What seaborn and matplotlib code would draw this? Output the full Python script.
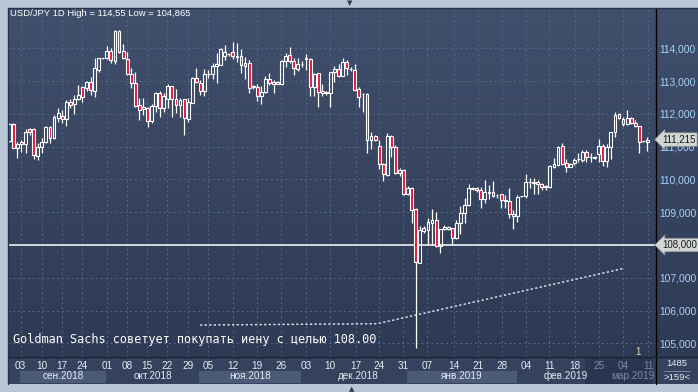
import numpy as np
import matplotlib
matplotlib.use("Agg")
import matplotlib.pyplot as plt
import matplotlib.transforms as mtransforms
from matplotlib.colors import LinearSegmentedColormap
from matplotlib.lines import Line2D
import seaborn as sns

# USD/JPY daily candles (oldest first)
opens = [111.18, 111.69, 110.97, 111.15, 111.07, 111.53, 111.53, 110.72, 110.99, 111.14,
         111.61, 111.25, 111.88, 111.94, 111.85, 112.37, 112.29, 112.46, 112.83, 112.80,
         112.96, 112.71, 113.34, 113.69, 113.71, 113.91, 113.62, 114.52, 113.91, 113.67,
         113.20, 112.93, 112.27, 112.14, 112.17, 111.78, 112.24, 112.62, 112.19, 112.44,
         112.85, 112.44, 112.27, 112.44, 111.84, 112.34, 113.10, 112.93, 112.71, 113.20,
         113.21, 113.46, 113.49, 113.77, 113.81, 113.87, 113.74, 113.76, 113.54, 113.54,
         112.83, 112.83, 112.54, 112.68, 113.05, 112.98, 112.91, 112.90, 113.62, 113.79,
         113.62, 113.37, 113.52, 113.66, 113.67, 112.83, 113.23, 112.70, 112.63, 112.62,
         113.26, 113.36, 113.16, 113.57, 113.37, 113.34, 112.75, 112.59, 112.59, 111.20,
         111.32, 111.02, 110.46, 110.13, 111.32, 110.98, 110.18, 110.29, 109.57, 109.73,
         109.09, 107.46, 108.43, 108.46, 108.68, 108.76, 107.98, 108.48, 108.48, 108.51,
         108.20, 108.66, 108.99, 109.22, 109.70, 109.73, 109.68, 109.39, 109.60, 109.61,
         109.52, 109.54, 109.35, 109.34, 108.89, 108.89, 109.48, 109.48, 109.91, 109.90,
         109.93, 109.85, 109.76, 109.78, 110.39, 110.44, 111.02, 110.49, 110.39, 110.49,
         110.61, 110.59, 110.84, 110.67, 110.66, 110.76, 111.02, 110.56, 110.98, 111.46,
         111.99, 111.83, 111.69, 111.86, 111.73, 111.63, 111.17, 111.14]
highs = [111.71, 111.73, 111.15, 111.20, 111.53, 111.56, 111.56, 111.10, 111.25, 111.63,
         111.63, 111.96, 112.17, 112.12, 112.42, 112.45, 112.57, 112.88, 112.86, 113.00,
         113.13, 113.69, 113.71, 113.71, 114.08, 114.00, 114.55, 114.55, 114.12, 113.89,
         113.39, 113.26, 112.47, 112.47, 112.22, 112.29, 112.68, 112.71, 112.62, 112.90,
         112.86, 112.75, 112.49, 112.46, 112.47, 113.11, 113.39, 113.03, 113.36, 113.34,
         113.54, 113.84, 114.00, 114.10, 113.84, 114.20, 114.17, 113.99, 113.72, 113.64,
         112.88, 112.90, 112.86, 113.15, 113.23, 113.03, 112.99, 113.64, 113.86, 114.05,
         113.69, 113.69, 113.60, 113.82, 113.69, 113.23, 113.25, 112.90, 112.71, 113.28,
         113.47, 113.51, 113.69, 113.64, 113.44, 113.51, 112.83, 112.62, 112.62, 111.43,
         111.35, 111.20, 110.49, 111.42, 111.35, 111.05, 110.34, 110.31, 109.80, 109.76,
         109.14, 108.58, 108.58, 108.81, 109.09, 109.01, 108.49, 108.61, 108.58, 108.51,
         108.76, 109.19, 109.42, 109.86, 109.78, 109.78, 109.76, 109.98, 109.83, 109.95,
         109.54, 109.54, 109.52, 109.73, 109.07, 109.52, 109.50, 110.16, 110.03, 110.05,
         109.98, 109.88, 109.83, 110.44, 110.64, 111.02, 111.12, 110.62, 110.49, 110.64,
         110.81, 110.90, 110.90, 110.80, 110.70, 111.22, 111.07, 111.07, 111.46, 112.06,
         112.01, 111.89, 112.12, 111.91, 111.81, 111.63, 111.18, 111.30]
lows = [111.15, 110.95, 110.64, 110.85, 110.79, 111.35, 110.61, 110.59, 110.79, 111.10,
        111.10, 111.22, 111.76, 111.71, 111.63, 112.17, 111.98, 112.42, 112.37, 112.71,
        112.57, 112.52, 113.28, 113.68, 113.67, 113.54, 113.51, 113.84, 113.66, 113.18,
        112.80, 112.20, 111.81, 111.96, 111.61, 111.71, 112.07, 111.91, 112.07, 112.17,
        111.91, 112.01, 111.91, 111.35, 111.76, 112.32, 112.93, 112.57, 112.54, 113.08,
        113.05, 112.93, 113.49, 113.64, 113.76, 113.66, 113.59, 113.25, 113.05, 112.62,
        112.76, 112.39, 112.29, 112.64, 112.88, 112.64, 112.90, 112.87, 113.42, 113.56,
        113.18, 113.32, 113.44, 113.34, 112.54, 112.54, 112.22, 112.54, 112.57, 112.22,
        112.98, 113.11, 113.15, 113.18, 113.32, 112.70, 112.22, 112.06, 110.79, 110.92,
        111.18, 110.31, 109.96, 110.11, 110.69, 110.15, 110.10, 109.52, 109.52, 108.68,
        104.865, 107.44, 108.38, 108.00, 108.00, 107.95, 107.77, 108.46, 108.46, 108.00,
        108.17, 108.33, 108.66, 109.19, 109.68, 109.63, 109.14, 109.29, 109.40, 109.47,
        109.44, 109.14, 109.12, 108.83, 108.48, 108.71, 109.45, 109.42, 109.73, 109.54,
        109.57, 109.68, 109.68, 109.75, 110.34, 110.41, 110.44, 110.24, 110.37, 110.44,
        110.54, 110.54, 110.54, 110.54, 110.63, 110.54, 110.41, 110.37, 110.62, 111.30,
        111.83, 111.63, 111.66, 111.69, 111.59, 110.79, 111.15, 110.87]
closes = [111.69, 110.97, 111.07, 111.07, 111.44, 111.44, 110.74, 111.00, 111.14, 111.61,
          111.25, 111.89, 112.01, 111.83, 112.37, 112.27, 112.46, 112.58, 112.52, 112.96,
          112.73, 113.39, 113.69, 113.70, 113.91, 113.64, 114.53, 113.89, 113.71, 113.20,
          112.93, 112.24, 112.12, 112.20, 111.78, 112.23, 112.64, 112.19, 112.55, 112.85,
          112.44, 112.27, 112.42, 111.86, 112.37, 113.08, 112.96, 112.71, 113.21, 113.22,
          113.47, 113.51, 113.98, 113.89, 113.82, 113.76, 113.77, 113.49, 113.47, 112.80,
          112.84, 112.54, 112.68, 113.05, 112.93, 112.91, 112.98, 113.62, 113.77, 113.62,
          113.39, 113.52, 113.52, 113.69, 112.83, 113.21, 112.68, 112.62, 112.65, 113.26,
          113.36, 113.16, 113.57, 113.39, 113.37, 112.73, 112.52, 112.60, 111.20, 111.32,
          111.20, 110.46, 110.15, 111.32, 110.98, 110.18, 110.29, 109.57, 109.73, 109.07,
          107.49, 108.46, 108.53, 108.71, 108.76, 107.97, 108.49, 108.56, 108.56, 108.20,
          108.68, 108.98, 109.22, 109.73, 109.75, 109.68, 109.39, 109.63, 109.61, 109.49,
          109.51, 109.37, 109.37, 108.93, 108.93, 109.47, 109.48, 109.91, 109.91, 109.93,
          109.85, 109.78, 109.80, 110.41, 110.46, 111.00, 110.46, 110.39, 110.46, 110.58,
          110.62, 110.84, 110.67, 110.68, 110.67, 111.02, 110.56, 110.98, 111.46, 111.96,
          111.86, 111.68, 111.86, 111.73, 111.63, 111.15, 111.18, 111.215]

# week labels (candle index of each Monday)
week_pos = [2.8, 8.0, 13.0, 17.9, 24.0, 29.0, 33.9, 38.8, 44.0, 48.9, 55.0, 60.9, 66.9, 73.0,
            78.9, 85.2, 91.0, 96.9, 102.8, 109.4, 115.3, 121.2, 127.1, 132.8, 139.2, 145.1,
            151.0, 157.2]
week_labels = ["03", "10", "17", "24", "01", "08", "15", "22", "29", "05", "12", "19", "26",
               "03", "10", "17", "24", "31", "07", "14", "21", "28", "04", "11", "18", "25",
               "04", "11"]
month_pos = [13.2, 35.4, 59.2, 85.8, 111.4, 137.0, 153.5]
month_labels = ["сен.2018", "окт.2018", "ноя.2018", "дек.2018", "янв.2019", "фев.2019",
                "мар.2019"]
band_spans = [(2.6, 23.8), (46.7, 71.8), (97.9, 124.9)]
future_span = (141.7, 158.4)

trend_x = [46.9, 90.5, 151.0]
trend_y = [105.56, 105.60, 107.28]
target_level = 108.0
last_price = 111.215
y_levels = list(range(105, 115))

sns.set_theme(style="dark")
plt.rcParams['font.family'] = ['Liberation Sans', 'DejaVu Sans']

W, H = 698, 392
def fx(px):
    return px / W
def fy(py):
    return 1 - py / H

fig = plt.figure(figsize=(W / 100, H / 100), dpi=100, facecolor='#b9c6d6')

# gradient background behind plot + price scale
bg = fig.add_axes([fx(8), fy(357), (698 - 8) / W, (357 - 8) / H])
cmap = LinearSegmentedColormap.from_list('bg', ['#404f6c', '#2e3a54'])
bg.imshow(np.linspace(0, 1, 200).reshape(-1, 1), cmap=cmap, aspect='auto', extent=[0, 1, 0, 1])
bg.set_axis_off()

ax = fig.add_axes([fx(8), fy(357), (656 - 8) / W, (357 - 8) / H])
ax.set_facecolor('none')
xlim = (-0.32, 159.1)
ax.set_xlim(*xlim)
ax.set_ylim(104.585, 115.226)
for s in ax.spines.values():
    s.set_visible(False)

ax.set_xticks(week_pos)
ax.tick_params(axis='x', length=0, labelbottom=False)
ax.yaxis.tick_right()
ax.set_yticks(y_levels)
# the 108 level is shown by its own price tag instead of a plain label
ax.set_yticklabels(["" if v == target_level else f"{v},000" for v in y_levels])
ax.tick_params(axis='y', length=0, pad=2, labelcolor='#a9d2fa', labelsize=7.4)
ax.grid(True, color='#56668a', linestyle=(0, (2, 3)), linewidth=0.7)
ax.set_axisbelow(True)

o = np.array(opens)
h = np.array(highs)
l = np.array(lows)
c = np.array(closes)
x = np.arange(len(o))
up = c >= o
lo_b = np.minimum(o, c)
hi_b = np.maximum(o, c)
ax.vlines(x, hi_b, h, color='white', linewidth=0.9, zorder=3)
ax.vlines(x, l, lo_b, color='white', linewidth=0.9, zorder=3)
ax.bar(x, np.maximum(hi_b - lo_b, 0.004), bottom=lo_b, width=0.7,
       color=['none' if u else '#e3173a' for u in up],
       edgecolor='white', linewidth=0.8, zorder=4)

ax.axhline(target_level, color='white', linewidth=1.1, zorder=2)
sns.lineplot(x=trend_x, y=trend_y, ax=ax, color='#d8dde6', linestyle=(0, (1.5, 1.5)),
             linewidth=1.1, zorder=2)

# bottom date panel
axb = fig.add_axes([fx(8), fy(384), (656 - 8) / W, 27 / H])
axb.set_facecolor('#34425d')
axb.set_xlim(*xlim)
axb.set_ylim(0, 1)
axb.set_xticks([])
axb.set_yticks([])
for s in axb.spines.values():
    s.set_visible(False)
for a, b in band_spans:
    axb.axvspan(a, b, ymin=0.03, ymax=0.49, color='#4a5a77', lw=0)
axb.axvspan(*future_span, color='#2a3650', lw=0)
for p, lab in zip(week_pos, week_labels):
    col = '#7d8aa0' if p > future_span[0] else '#e6ebf2'
    axb.text(p, 0.67, lab, ha='center', va='center', fontsize=7.2, color=col)
for p, lab in zip(month_pos, month_labels):
    col = '#7d8aa0' if p > future_span[0] else '#e6ebf2'
    axb.text(p, 0.29, lab, ha='center', va='center', fontsize=7.2, color=col)

# corner box
axc = fig.add_axes([fx(656), fy(384), 42 / W, 27 / H])
axc.set_facecolor('#34425d')
axc.set_xticks([])
axc.set_yticks([])
for s in axc.spines.values():
    s.set_visible(False)
fig.text(fx(677), fy(363.5), "1485", ha='center', va='center', fontsize=6.8, color='#e6ebf2')
fig.add_artist(Line2D([fx(664), fx(690)], [fy(371), fy(371)], color='#8a97ad', lw=0.6))
fig.text(fx(677), fy(377.5), ">159<", ha='center', va='center', fontsize=6.8, color='#e6ebf2')

# separators
fig.add_artist(Line2D([fx(656), fx(656)], [fy(8), fy(384)], color='black', lw=1))
fig.add_artist(Line2D([fx(8), 1], [fy(357), fy(357)], color='#1a2233', lw=1))
fig.add_artist(Line2D([fx(8), fx(8)], [fy(8), fy(384)], color='#27324a', lw=1))
fig.add_artist(Line2D([fx(8), 1], [fy(8), fy(8)], color='#27324a', lw=1))

# price tags on the scale
trans = mtransforms.blended_transform_factory(fig.transFigure, ax.transData)
for v, txt in [(last_price, "111,215"), (target_level, "108,000")]:
    fig.text(fx(662), v, txt, transform=trans, ha='left', va='center', fontsize=7.0,
             color='#1a1a1a', zorder=10,
             bbox=dict(boxstyle='larrow,pad=0.18', fc='#d3d7d4', ec='#8a8f95', lw=0.5))

fig.text(fx(10), fy(14), "USD/JPY 1D High = 114,55 Low = 104,865", ha='left', va='center',
         fontsize=6.8, color='white')
fig.text(fx(13), fy(339.5), "Goldman Sachs советует покупать иену с целью 108.00",
         ha='left', va='center', fontsize=8.6, color='white', family='DejaVu Sans Mono')
fig.text(fx(637.5), fy(352), "1", ha='center', va='center', fontsize=7, color='#e6d8b0')
fig.text(fx(350), fy(3), "▼", ha='center', va='center', fontsize=5, color='#2a3a55',
         family='DejaVu Sans')
fig.text(fx(352), fy(389), "▲", ha='center', va='center', fontsize=5, color='#2a3a55',
         family='DejaVu Sans')

fig.savefig("out.png", dpi=100, facecolor=fig.get_facecolor())
